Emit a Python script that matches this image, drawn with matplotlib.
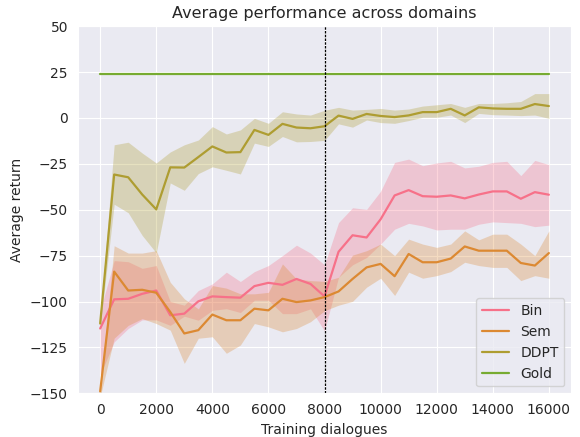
import matplotlib
matplotlib.use('Agg')
import matplotlib.pyplot as plt
import seaborn as sns
import numpy as np

sns.set_style('darkgrid')
plt.rcParams['font.family'] = ['DejaVu Sans']

steps = list(range(0, 16001, 500))

bin_mean = [-114.7, -98.8, -98.5, -95.8, -94.0, -107.5, -106.6, -99.9, -97.2, -97.6, -97.9,
            -91.6, -89.8, -90.9, -87.7, -90.4, -97.2, -72.9, -63.9, -65.1, -55.2, -42.2,
            -39.3, -42.6, -42.9, -42.2, -43.8, -41.7, -40.0, -40.0, -44.0, -40.4, -41.8]
bin_hi = [-105, -77.7, -78.3, -81.9, -80.4, -100, -102, -94, -90.4, -84, -89.1,
          -83.7, -80.4, -75, -69.3, -73.6, -80, -57, -48.9, -49.8, -39.9, -24.2,
          -22.4, -26, -24.5, -23.6, -27.2, -26.3, -24.2, -23.6, -31.4, -23.1, -25.4]
bin_lo = [-140, -122, -114.7, -110, -110, -113, -108, -110.2, -104.8, -103.9, -106,
          -99.3, -99.3, -106.6, -106.6, -104, -116, -86.8, -80, -76, -68.7, -60.6,
          -57.4, -58.8, -61, -60.6, -60.6, -57.9, -56.6, -57, -57.4, -59.2, -58.4]

sem_mean = [-149, -83.7, -94.0, -93.6, -95.2, -105.7, -117.4, -115.6, -107.1, -110.2, -110.2,
            -103.9, -104.8, -98.5, -100.3, -99.4, -97.6, -94.5, -87.7, -81.4, -79.5, -86.2,
            -74.1, -78.6, -78.6, -76.6, -70.0, -72.3, -72.3, -72.3, -79.0, -80.4, -73.6]
sem_hi = [-148, -69.6, -73.6, -73.6, -72.3, -89.5, -98.5, -104, -91.3, -92.7, -95.8,
          -95.8, -95, -79.5, -87.7, -88.6, -89, -86.8, -74.7, -72.3, -68.7, -75,
          -66, -68.7, -70.5, -68.7, -61.5, -66.4, -63.3, -63.3, -68.7, -75, -61.5]
sem_lo = [-152, -120, -113, -109.3, -112, -115.6, -133.7, -120, -119.2, -128.2, -123.7,
          -112, -113.8, -116.5, -114.7, -111, -105, -102, -99.9, -92.2, -87.3, -96.7,
          -84, -87.3, -85.9, -83.7, -78.6, -80.4, -81.4, -81.4, -88.6, -85.9, -87.3]

ddpt_mean = [-112, -30.8, -32.3, -41.7, -49.8, -26.9, -27.0, -21.3, -15.5, -18.8, -18.6,
             -6.5, -9.2, -3.2, -5.2, -5.6, -4.5, 1.3, -0.5, 2.2, 1.1, 0.5,
             1.4, 3.2, 3.2, 5.0, 1.4, 5.8, 5.2, 5.0, 5.0, 7.6, 6.5]
ddpt_hi = [-109, -14.6, -13.2, -19.1, -24.5, -18.5, -14.6, -12, -4.7, -8.7, -6.5,
           -0.2, -2.9, 3.4, 2.2, 1.6, 4.2, 5.8, 4.3, 4.7, 5.2, 4.3,
           4.9, 6.5, 7.2, 7.9, 5.8, 7.9, 7.9, 8.3, 9.0, 13.3, 13.3]
ddpt_lo = [-114, -47, -51.6, -64, -73.5, -35.4, -39.4, -30.3, -26.6, -28.5, -30.5,
           -13.7, -15.5, -10.1, -13, -12.8, -12.2, -3.2, -5, -1.1, -2.5, -2.9,
           -1.4, 0.4, 0.4, 1.6, -2.5, 2.5, 1.8, 1.6, 1.3, 1.6, -0.2]

gold_return = 24.0
switch_point = 8000

colors = sns.color_palette('husl', 10)

fig = plt.figure(figsize=(5.8, 4.37), dpi=100)
ax = fig.add_subplot(1, 1, 1)
fig.subplots_adjust(left=0.134, right=0.985, top=0.94, bottom=0.10)

series = [('Bin', bin_mean, bin_lo, bin_hi, colors[0]),
          ('Sem', sem_mean, sem_lo, sem_hi, colors[1]),
          ('DDPT', ddpt_mean, ddpt_lo, ddpt_hi, colors[2])]
for name, m, lo, hi, c in series:
    ax.fill_between(steps, lo, hi, color=c, alpha=0.3, linewidth=0)
    ax.plot(steps, m, color=c, lw=1.6, label=name)
ax.plot([steps[0], steps[-1]], [gold_return, gold_return], color=colors[3], lw=1.6, label='Gold')

ax.axvline(switch_point, color='black', lw=0.9, ls=(0, (2, 1)))

ax.set_ylim(-150, 50)
ax.set_yticks(np.arange(-150, 51, 25))
ax.set_xticks(range(0, 16001, 2000))
ax.tick_params(labelsize=10)
ax.set_xlabel('Training dialogues', fontsize=10)
ax.set_ylabel('Average return', fontsize=10)
ax.set_title('Average performance across domains', fontsize=11.5)
ax.legend(loc='lower right', fontsize=10)

fig.savefig('out.png', dpi=100)
